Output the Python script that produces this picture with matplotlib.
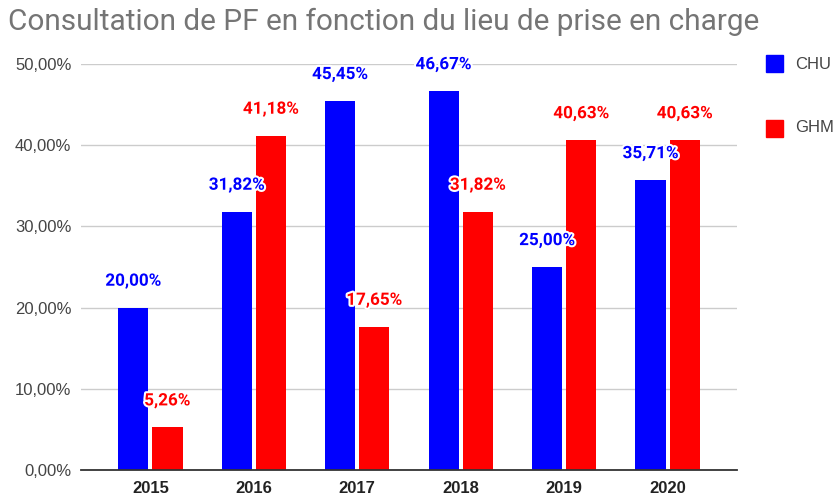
import matplotlib
matplotlib.use("Agg")
import matplotlib.pyplot as plt
import matplotlib.patheffects as pe
from matplotlib.patches import Rectangle
import numpy as np

years = ["2015", "2016", "2017", "2018", "2019", "2020"]
chu = [20.00, 31.82, 45.45, 46.67, 25.00, 35.71]
ghm = [5.26, 41.18, 17.65, 31.82, 40.63, 40.63]
series = [("CHU", chu, "#0000ff"), ("GHM", ghm, "#ff0000")]
yticks = [0, 10, 20, 30, 40, 50]
title = "Consultation de PF en fonction du lieu de prise en charge"

def fmt(v):
    return f"{v:.2f}".replace(".", ",") + "%"

fig = plt.figure(figsize=(8.35, 4.98), dpi=100)
ax = fig.add_axes([81/835, 28/498, 656/835, 406/498])

x = np.arange(len(years))
w = 0.293
offs = [-0.165, 0.165]
for (name, vals, col), off in zip(series, offs):
    ax.bar(x + off, vals, width=w, color=col, zorder=3)
    for xi, v in zip(x, vals):
        ax.annotate(fmt(v), (xi + off, v), xytext=(0, 19), textcoords="offset points",
                    ha="center", va="center", color=col, fontsize=12.3, fontweight="bold",
                    family=["Roboto", "DejaVu Sans"], zorder=5,
                    path_effects=[pe.withStroke(linewidth=3, foreground="white")])

ax.set_xlim(-0.67, 5.67)
ax.set_ylim(0, 50)
ax.set_yticks(yticks)
ax.set_yticklabels([fmt(t) for t in yticks], fontsize=12, color="#444444", family="Liberation Sans")
ax.set_xticks(x)
ax.set_xticklabels(years, fontsize=12, fontweight="bold", color="#222222", family="Liberation Sans")
ax.tick_params(axis="both", length=0)
ax.tick_params(axis="y", pad=7)
ax.tick_params(axis="x", pad=8)
ax.grid(axis="y", color="#cccccc", linewidth=1, zorder=0)
for s in ["top", "right", "left"]:
    ax.spines[s].set_visible(False)
ax.spines["bottom"].set_color("#333333")
ax.spines["bottom"].set_linewidth(1.3)
ax.spines["bottom"].set_zorder(4)

fig.text(8/835, 1 - 22/498, title, fontsize=21.4, color="#757575", family="Roboto",
         ha="left", va="center")

for i, (name, vals, col) in enumerate(series):
    cy = 64 + i * 64
    fig.patches.append(Rectangle((766/835, 1 - (cy + 8.5)/498), 17/835, 17/498,
                                 transform=fig.transFigure, color=col, figure=fig))
    fig.text(795/835, 1 - cy/498, name, fontsize=12, color="#444444",
             family="Liberation Sans", ha="left", va="center")

fig.savefig("out.png", dpi=100)
